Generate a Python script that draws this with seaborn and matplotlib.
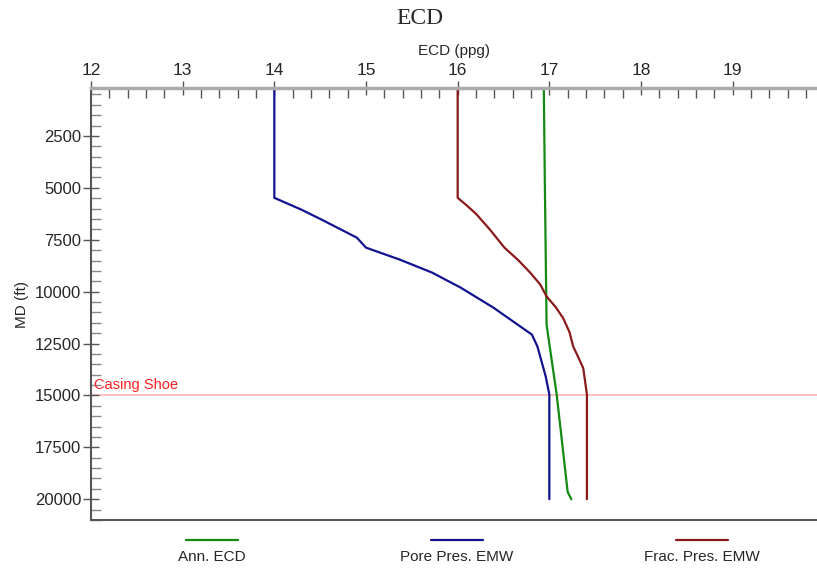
import numpy as np
import pandas as pd
import matplotlib
matplotlib.use("Agg")
import matplotlib.pyplot as plt
from matplotlib.lines import Line2D
from matplotlib.ticker import MultipleLocator
import seaborn as sns

# values (ECD in ppg, MD in ft)
pore_ecd = [14.0, 14.0, 14.3, 14.52, 14.9, 15.0, 15.37, 15.72, 16.03, 16.39, 16.81, 16.87, 16.96, 17.0, 17.0]
pore_md = [300, 5480, 6060, 6540, 7400, 7880, 8460, 9080, 9800, 10770, 12070, 12640, 14080, 14950, 20000]

frac_ecd = [16.0, 16.0, 16.1, 16.2, 16.35, 16.51, 16.66, 16.79, 16.9, 16.97, 17.07, 17.15, 17.22, 17.26, 17.32, 17.37, 17.41, 17.41]
frac_md = [300, 5480, 5850, 6250, 7000, 7880, 8480, 9080, 9650, 10230, 10750, 11270, 11950, 12640, 13200, 13690, 14950, 20000]

ann_ecd = [16.94, 16.95, 16.97, 17.08, 17.2, 17.24]
ann_md = [300, 4400, 11600, 14950, 19650, 20000]

series = ["Ann. ECD", "Pore Pres. EMW", "Frac. Pres. EMW"]
colors = ["#138a13", "#12128f", "#8a1a1a"]
casing_shoe_md = 15000

df = pd.concat([
    pd.DataFrame({"ecd": ann_ecd, "md": ann_md, "curve": series[0]}),
    pd.DataFrame({"ecd": pore_ecd, "md": pore_md, "curve": series[1]}),
    pd.DataFrame({"ecd": frac_ecd, "md": frac_md, "curve": series[2]}),
])

sns.set_style("ticks")
plt.rcParams["font.family"] = ["Liberation Sans", "DejaVu Sans"]

fig = plt.figure(figsize=(8.17, 5.70), dpi=100)
ax = fig.add_axes([91 / 817, 50 / 570, 726 / 817, 432 / 570])

sns.lineplot(data=df, x="ecd", y="md", hue="curve", palette=dict(zip(series, colors)),
             sort=False, estimator=None, linewidth=1.6, legend=False, ax=ax)

ax.axhline(casing_shoe_md, color="#ffb4b4", lw=1.2, zorder=0)
ax.text(12.03, casing_shoe_md - 150, "Casing Shoe", color="#ff2020", fontsize=10.5, va="bottom")

ax.set_xlim(12, 19.92)
ax.set_ylim(21000, 190)
ax.xaxis.tick_top()
ax.xaxis.set_label_position("top")
ax.xaxis.set_major_locator(MultipleLocator(1))
ax.xaxis.set_minor_locator(MultipleLocator(0.2))
ax.yaxis.set_major_locator(MultipleLocator(2500))
ax.yaxis.set_minor_locator(MultipleLocator(500))
ax.tick_params(axis="x", which="both", top=True, bottom=False)
ax.tick_params(axis="y", which="both", left=True, right=False)
ax.tick_params(axis="x", which="major", direction="inout", length=10, width=1, labelsize=12.5, pad=2, color="#555555")
ax.tick_params(axis="x", which="minor", direction="in", length=7, width=1, color="#555555")
ax.tick_params(axis="y", which="major", direction="inout", length=12, width=1, labelsize=12, pad=1, color="#555555")
ax.tick_params(axis="y", which="minor", direction="in", length=7, width=1, color="#888888")
ax.set_xlabel("ECD (ppg)", fontsize=11, labelpad=6)
ax.set_ylabel("MD (ft)", fontsize=11, labelpad=4)

for s in ["left", "bottom"]:
    ax.spines[s].set_color("#555555")
    ax.spines[s].set_linewidth(1.5)
ax.spines["top"].set_color("#aaaaaa")
ax.spines["top"].set_linewidth(2.5)
ax.spines["right"].set_visible(False)

# legend: handle above text
for name, col, cx in zip(series, colors, [212, 457, 702]):
    fx = cx / 817
    fig.add_artist(Line2D([fx - 26 / 817, fx + 26 / 817], [1 - 540 / 570] * 2, color=col, lw=1.6))
    fig.text(fx, 1 - 557 / 570, name, ha="center", va="center", fontsize=11)

fig.text(420 / 817, 1 - 18 / 570, "ECD", ha="center", va="center", fontsize=17,
         family=["Liberation Serif", "DejaVu Serif"])

fig.savefig("out.png", dpi=100)
